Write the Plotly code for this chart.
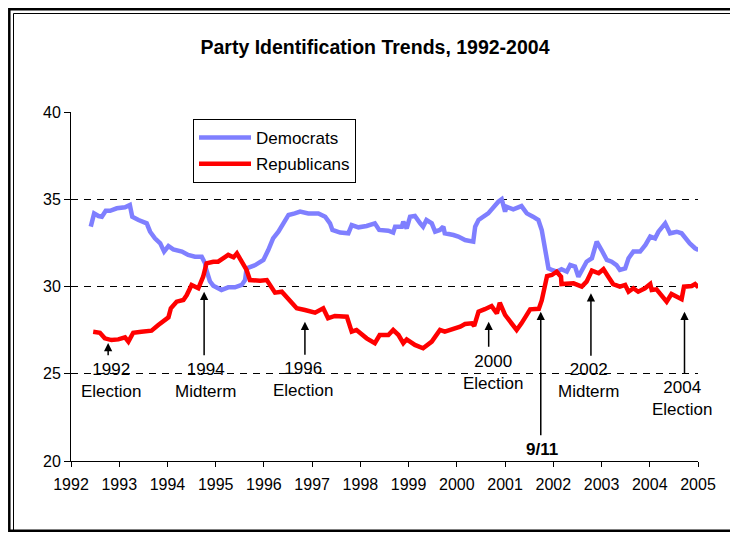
import plotly.graph_objects as go

# ---------------- data ----------------
dem_x = [1992.41, 1992.48, 1992.57, 1992.64, 1992.72, 1992.81, 1992.95, 1993.12, 1993.22, 1993.27,
         1993.40, 1993.57, 1993.64, 1993.74, 1993.85, 1993.93, 1994.02, 1994.12, 1994.30, 1994.43,
         1994.57, 1994.71, 1994.78, 1994.80, 1994.88, 1994.95, 1995.12, 1995.26, 1995.40, 1995.54,
         1995.61, 1995.64, 1995.82, 1995.99, 1996.09, 1996.19, 1996.30, 1996.44, 1996.51, 1996.64,
         1996.75, 1996.92, 1997.13, 1997.27, 1997.37, 1997.42, 1997.58, 1997.75, 1997.82, 1997.96,
         1998.13, 1998.30, 1998.39, 1998.58, 1998.68, 1998.72, 1998.86, 1998.89, 1998.96, 1999.03,
         1999.13, 1999.24, 1999.30, 1999.37, 1999.48, 1999.55, 1999.65, 1999.72, 1999.75, 1999.93,
         2000.03, 2000.17, 2000.34, 2000.38, 2000.45, 2000.65, 2000.79, 2000.86, 2000.93, 2001.00,
         2001.03, 2001.17, 2001.34, 2001.45, 2001.58, 2001.69, 2001.76, 2001.83, 2001.90, 2001.97,
         2002.07, 2002.17, 2002.28, 2002.35, 2002.45, 2002.52, 2002.62, 2002.69, 2002.80, 2002.90,
         2003.00, 2003.11, 2003.21, 2003.31, 2003.38, 2003.49, 2003.56, 2003.66, 2003.80, 2003.91,
         2004.01, 2004.11, 2004.18, 2004.32, 2004.42, 2004.56, 2004.66, 2004.77, 2004.83, 2004.94,
         2005.01]
dem_y = [33.43, 34.19, 34.04, 34.00, 34.34, 34.34, 34.48, 34.54, 34.67, 34.00,
         33.81, 33.62, 33.14, 32.76, 32.47, 32.00, 32.32, 32.13, 32.00, 31.81,
         31.71, 31.71, 31.33, 31.00, 30.30, 30.05, 29.80, 29.95, 29.95, 30.09,
         30.37, 31.04, 31.23, 31.52, 32.09, 32.76, 33.14, 33.71, 34.10, 34.19,
         34.29, 34.19, 34.19, 34.00, 33.62, 33.24, 33.09, 33.05, 33.52, 33.39,
         33.47, 33.62, 33.24, 33.20, 33.09, 33.43, 33.43, 33.71, 33.33, 34.00,
         34.04, 33.62, 33.43, 33.81, 33.62, 33.14, 33.24, 33.43, 33.05, 32.95,
         32.86, 32.66, 32.57, 33.43, 33.81, 34.19, 34.67, 34.86, 35.00, 34.29,
         34.57, 34.42, 34.61, 34.19, 34.00, 33.81, 33.24, 32.09, 31.04, 30.95,
         30.85, 30.99, 30.85, 31.23, 31.14, 30.56, 31.04, 31.42, 31.62, 32.57,
         32.09, 31.52, 31.42, 31.23, 30.95, 31.04, 31.62, 32.00, 32.00, 32.38,
         32.86, 32.76, 33.14, 33.62, 33.05, 33.14, 33.05, 32.66, 32.47, 32.19,
         32.09]

rep_x = [1992.46, 1992.60, 1992.70, 1992.84, 1992.98, 1993.12, 1993.19, 1993.29, 1993.46, 1993.67,
         1993.81, 1993.95, 1994.02, 1994.07, 1994.19, 1994.33, 1994.40, 1994.50, 1994.64, 1994.74,
         1994.81, 1994.95, 1995.05, 1995.26, 1995.37, 1995.44, 1995.54, 1995.64, 1995.71, 1995.92,
         1996.06, 1996.23, 1996.37, 1996.54, 1996.68, 1996.85, 1997.06, 1997.23, 1997.33, 1997.47,
         1997.72, 1997.82, 1997.92, 1998.13, 1998.30, 1998.40, 1998.58, 1998.68, 1998.79, 1998.89,
         1998.96, 1999.13, 1999.30, 1999.48, 1999.65, 1999.75, 1999.89, 2000.07, 2000.17, 2000.31,
         2000.36, 2000.45, 2000.58, 2000.72, 2000.78, 2000.83, 2000.89, 2001.00, 2001.24, 2001.34,
         2001.52, 2001.70, 2001.76, 2001.82, 2001.87, 2001.97, 2002.07, 2002.16, 2002.17, 2002.42,
         2002.59, 2002.69, 2002.80, 2002.94, 2003.04, 2003.14, 2003.24, 2003.38, 2003.49, 2003.56,
         2003.66, 2003.76, 2003.90, 2004.01, 2004.04, 2004.14, 2004.28, 2004.35, 2004.45, 2004.56,
         2004.66, 2004.71, 2004.87, 2004.94, 2005.01]
rep_y = [27.41, 27.35, 27.03, 26.93, 26.97, 27.09, 26.84, 27.35, 27.41, 27.47,
         27.79, 28.12, 28.23, 28.75, 29.13, 29.23, 29.51, 30.09, 29.90, 30.56,
         31.33, 31.42, 31.42, 31.81, 31.67, 31.90, 31.42, 30.95, 30.37, 30.33,
         30.37, 29.65, 29.70, 29.13, 28.75, 28.65, 28.50, 28.75, 28.18, 28.31,
         28.27, 27.41, 27.51, 27.03, 26.75, 27.22, 27.22, 27.51, 27.22, 26.75,
         26.97, 26.65, 26.46, 26.84, 27.51, 27.41, 27.51, 27.70, 27.85, 27.89,
         27.74, 28.56, 28.70, 28.88, 28.65, 28.46, 29.07, 28.37, 27.51, 27.89,
         28.69, 28.72, 29.20, 30.00, 30.60, 30.66, 30.85, 30.56, 30.14, 30.18,
         29.99, 30.28, 30.91, 30.76, 30.99, 30.56, 30.14, 29.99, 30.09, 29.70,
         29.90, 29.70, 29.90, 30.14, 29.80, 29.84, 29.32, 29.13, 29.57, 29.42,
         29.27, 29.99, 30.03, 30.14, 29.95]

x_ticks = list(range(1992, 2006))
y_ticks = [20, 25, 30, 35, 40]

# events: label, arrow x, arrow tip y, arrow tail y, label x, label y, bold
event_labels = ["1992<br>Election", "1994<br>Midterm", "1996<br>Election", "2000<br>Election",
                "9/11", "2002<br>Midterm", "2004<br>Election"]
event_x = [1992.77, 1994.76, 1996.85, 2000.66, 2001.74, 2002.78, 2004.72]
event_tip = [26.76, 29.70, 27.98, 27.98, 28.56, 29.61, 28.56]
event_tail = [25.97, 25.97, 26.00, 26.46, 21.39, 25.94, 24.93]
label_x = [1992.83, 1994.79, 1996.82, 2000.75, 2001.77, 2002.73, 2004.66]
label_y = [24.63, 24.63, 24.69, 25.07, 20.67, 24.63, 23.61]
label_bold = [False, False, False, False, True, False, False]

FONT = "Liberation Sans, Arial, sans-serif"

fig = go.Figure()
fig.add_trace(go.Scatter(x=dem_x, y=dem_y, mode="lines", name="Democrats",
                         line=dict(color="#7F7FFF", width=4.5), legendgroup="d"))
fig.add_trace(go.Scatter(x=rep_x, y=rep_y, mode="lines", name="Republicans",
                         line=dict(color="#FF0000", width=4.5), legendgroup="r"))

annotations = []
for ex, tip, tail in zip(event_x, event_tip, event_tail):
    annotations.append(dict(x=ex, y=tip, xref="x", yref="y", ax=ex, ay=tail,
                            axref="x", ayref="y", text="", showarrow=True,
                            arrowhead=2, arrowsize=1.1, arrowwidth=1.5, arrowcolor="black",
                            standoff=0, startstandoff=0))
for lab, lx, ly, b in zip(event_labels, label_x, label_y, label_bold):
    annotations.append(dict(x=lx, y=ly, xref="x", yref="y", text=lab, showarrow=False,
                            xanchor="center", yanchor="middle", align="center",
                            font=dict(family=FONT, size=17, color="black",
                                      weight="bold" if b else "normal")))

# The page has an 8px body margin: the figure's (0,0) sits at page (8,8).
OFF = 8
W, H = 730, 525
L, R, T, B = 63, 40, 104, 72
pw, ph = W - L - R, H - T - B
def px(page_x):
    return (page_x - OFF - L) / pw
def py(page_y):
    return (H - B - (page_y - OFF)) / ph

shapes = [
    dict(type="rect", xref="paper", yref="paper", x0=px(9.3), x1=px(732.7), y0=py(530.7), y1=py(9.3),
         line=dict(color="black", width=2.5), layer="below"),
    dict(type="line", xref="paper", yref="paper", x0=px(13.5), x1=px(13.5), y0=py(530), y1=py(13.5),
         line=dict(color="black", width=1)),
    dict(type="line", xref="paper", yref="paper", x0=px(13.5), x1=px(732), y0=py(13.5), y1=py(13.5),
         line=dict(color="black", width=1)),
]

fig.update_layout(
    width=W, height=H, autosize=False,
    margin=dict(l=L, r=R, t=T, b=B),
    paper_bgcolor="white", plot_bgcolor="white",
    font=dict(family=FONT, size=16, color="black"),
    title=dict(text="<b>Party Identification Trends, 1992-2004</b>",
               x=(375 - OFF) / W, xref="container", xanchor="center",
               y=1 - (47 - OFF) / H, yref="container", yanchor="middle",
               font=dict(family=FONT, size=19.5, color="black")),
    xaxis=dict(range=[1992, 2005], tickmode="array", tickvals=x_ticks,
               ticktext=[str(v) for v in x_ticks],
               ticks="outside", ticklen=5, tickcolor="black", tickwidth=1,
               ticklabelstandoff=4,
               showline=True, linecolor="black", linewidth=1,
               showgrid=False, zeroline=False, tickfont=dict(size=16)),
    yaxis=dict(range=[20, 40], tickmode="array", tickvals=y_ticks,
               ticks="outside", ticklen=6, tickcolor="black", tickwidth=1,
               showline=True, linecolor="black", linewidth=1,
               showgrid=True, gridcolor="black", gridwidth=1, griddash="7px,6px",
               zeroline=False, tickfont=dict(size=16)),
    legend=dict(x=px(193), y=py(119), xanchor="left", yanchor="top",
                bordercolor="black", borderwidth=1, bgcolor="white",
                font=dict(family=FONT, size=17, color="black"),
                tracegroupgap=1, itemwidth=52),
    showlegend=True,
    annotations=annotations,
    shapes=shapes,
)

fig.write_html("out.html")
